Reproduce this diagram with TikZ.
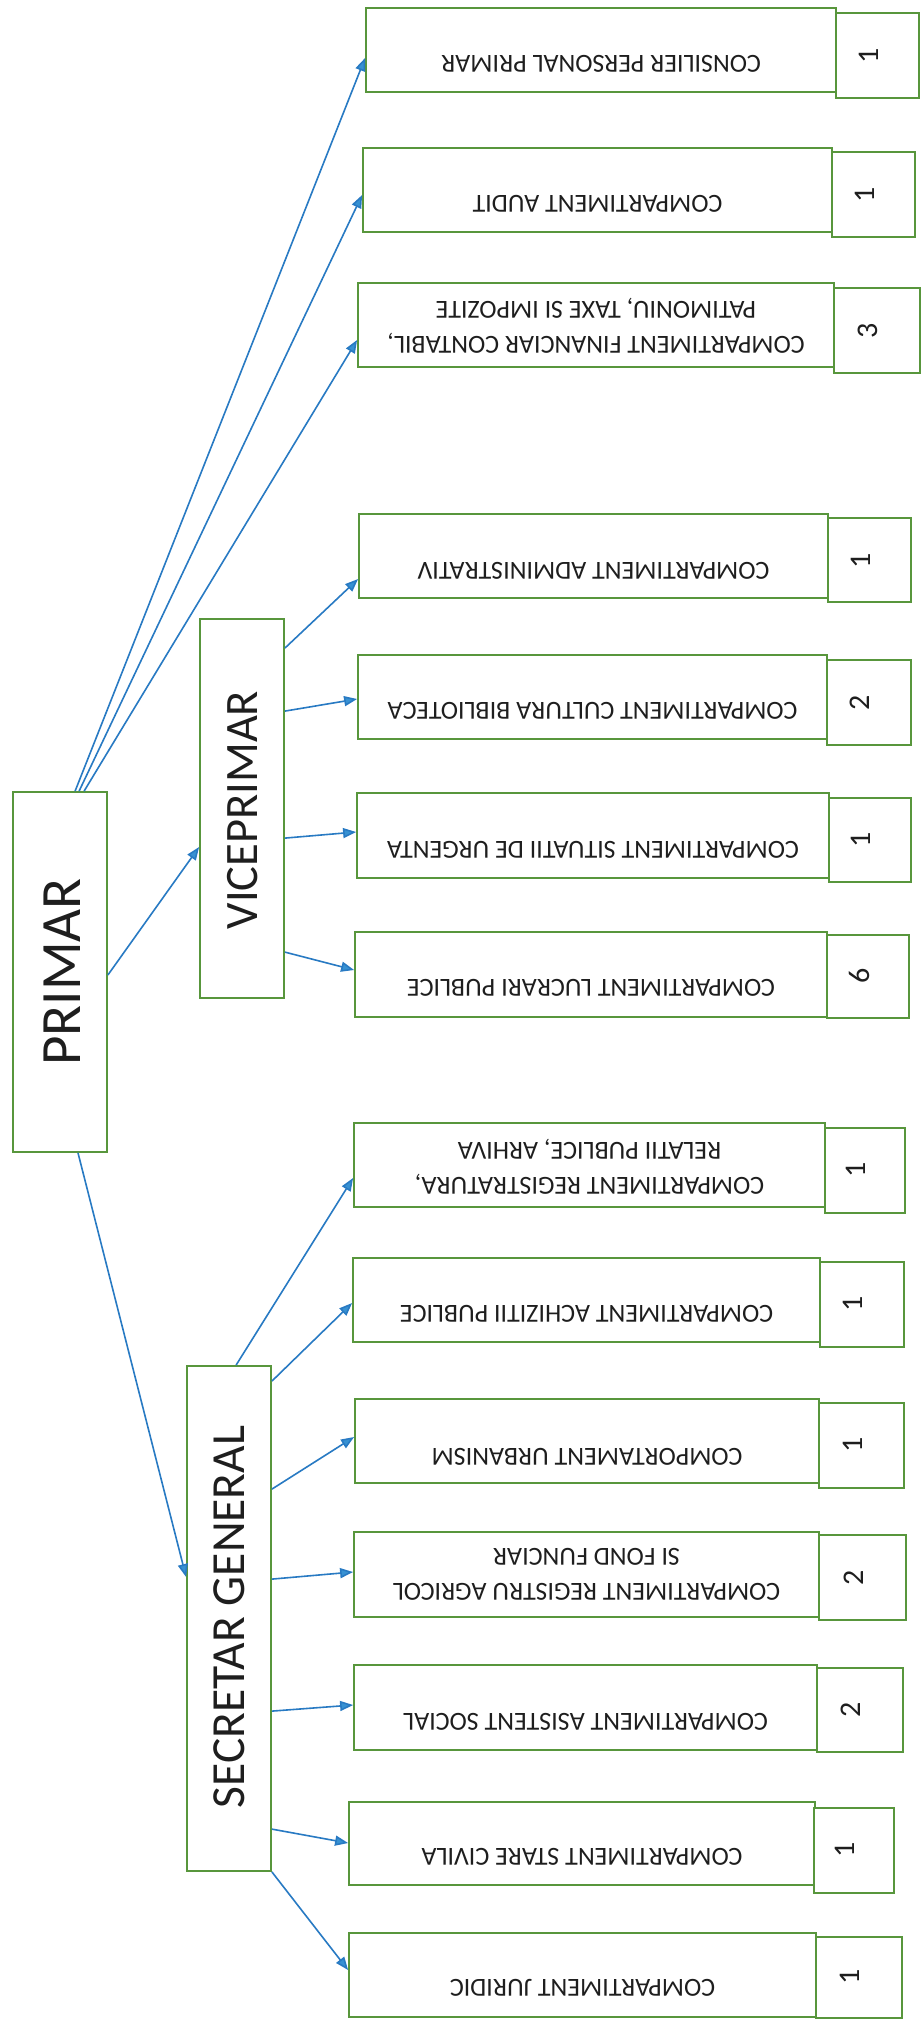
\documentclass[tikz,border=0pt]{standalone}
\usepackage{fontspec}
\setmainfont{Carlito}
\usetikzlibrary{arrows.meta,calc}
\definecolor{boxgreen}{RGB}{88,150,60}
\definecolor{arrowblue}{RGB}{40,122,195}
\definecolor{headblue}{RGB}{55,145,210}
\definecolor{inkgray}{RGB}{30,30,30}
\tikzset{
  unitbox/.style={rectangle, draw=boxgreen, line width=1.8pt, fill=white, inner sep=0pt},
  boxtext/.style={rotate=180, font=\fontsize{26}{35}\selectfont, text=inkgray, align=center, inner sep=0pt},
  numtext/.style={rotate=90, font=\fontsize{30}{30}\selectfont, text=inkgray, inner sep=0pt},
  headtext/.style={rotate=90, text=inkgray, inner sep=0pt},
  link/.style={draw=arrowblue, line width=1.6pt, -{Triangle[length=13pt,width=10pt,fill=headblue]}}
}
\begin{document}
\begin{tikzpicture}[x=1pt,y=-1pt]
\useasboundingbox[fill=white] (0,0) rectangle (922,2021);

% ---- head boxes ----
\node[unitbox, minimum width=94pt, minimum height=360pt] (primar) at (60,972) {};
\node[headtext, font=\fontsize{57}{57}\selectfont] (primarT) at (62,972) {PRIMAR};
\node[unitbox, minimum width=84pt, minimum height=379pt] (vice) at (242,808.5) {};
\node[headtext, font=\fontsize{46.5}{46.5}\selectfont] (viceT) at (243,810) {VICEPRIMAR};
\node[unitbox, minimum width=84pt, minimum height=505pt] (sec) at (229,1618.5) {};
\node[headtext, font=\fontsize{47.5}{47.5}\selectfont] (secT) at (229,1617) {SECRETAR GENERAL};

% ---- unit boxes ----
\node[unitbox, minimum width=470pt, minimum height=84pt] (b1) at (601,50) {};
\node[unitbox, minimum width=83pt, minimum height=85pt] (c1) at (877.5,55.5) {};
\node[boxtext] (t1) at (601,64) {CONSILIER PERSONAL PRIMAR};
\node[numtext] (n1) at (868.5,55.5) {1};

\node[unitbox, minimum width=469pt, minimum height=84pt] (b2) at (597.5,190) {};
\node[unitbox, minimum width=83pt, minimum height=85pt] (c2) at (873.5,194.5) {};
\node[boxtext] (t2) at (597.5,204) {COMPARTIMENT AUDIT};
\node[numtext] (n2) at (864.5,194.5) {1};

\node[unitbox, minimum width=476pt, minimum height=84pt] (b3) at (596,325) {};
\node[unitbox, minimum width=86pt, minimum height=85pt] (c3) at (877,330.5) {};
\node[boxtext] (t3) at (596,326) {COMPARTIMENT FINANCIAR CONTABIL,\\PATIMONIU, TAXE SI IMPOZITE};
\node[numtext] (n3) at (868,331) {3};

\node[unitbox, minimum width=469pt, minimum height=84pt] (b4) at (593.5,556) {};
\node[unitbox, minimum width=83pt, minimum height=84pt] (c4) at (869.5,560) {};
\node[boxtext] (t4) at (593.5,571) {COMPARTIMENT ADMINISTRATIV};
\node[numtext] (n4) at (860.5,561) {1};

\node[unitbox, minimum width=469pt, minimum height=84pt] (b5) at (592.5,697) {};
\node[unitbox, minimum width=84pt, minimum height=85pt] (c5) at (869,702.5) {};
\node[boxtext] (t5) at (592.5,711) {COMPARTIMENT CULTURA BIBLIOTECA};
\node[numtext] (n5) at (860,703) {2};

\node[unitbox, minimum width=472pt, minimum height=85pt] (b6) at (593,835.5) {};
\node[unitbox, minimum width=82pt, minimum height=84pt] (c6) at (870,840) {};
\node[boxtext] (t6) at (593,850) {COMPARTIMENT SITUATII DE URGENTA};
\node[numtext] (n6) at (861,840) {1};

\node[unitbox, minimum width=472pt, minimum height=85pt] (b7) at (591,974.5) {};
\node[unitbox, minimum width=82pt, minimum height=83pt] (c7) at (868,976.5) {};
\node[boxtext] (t7) at (591,988) {COMPARTIMENT LUCRARI PUBLICE};
\node[numtext] (n7) at (859,976) {6};

\node[unitbox, minimum width=471pt, minimum height=84pt] (b8) at (589.5,1165) {};
\node[unitbox, minimum width=80pt, minimum height=85pt] (c8) at (865,1170.5) {};
\node[boxtext] (t8) at (589.5,1167) {COMPARTIMENT REGISTRATURA,\\RELATII PUBLICE, ARHIVA};
\node[numtext] (n8) at (856,1170) {1};

\node[unitbox, minimum width=467pt, minimum height=84pt] (b9) at (586.5,1300) {};
\node[unitbox, minimum width=84pt, minimum height=85pt] (c9) at (862,1304.5) {};
\node[boxtext] (t9) at (586.5,1314) {COMPARTIMENT ACHIZITII PUBLICE};
\node[numtext] (n9) at (853,1304) {1};

\node[unitbox, minimum width=464pt, minimum height=84pt] (b10) at (587,1441) {};
\node[unitbox, minimum width=85pt, minimum height=85pt] (c10) at (861.5,1445.5) {};
\node[boxtext] (t10) at (587,1457) {COMPORTAMENT URBANISM};
\node[numtext] (n10) at (852.5,1445) {1};

\node[unitbox, minimum width=465pt, minimum height=85pt] (b11) at (586.5,1574.5) {};
\node[unitbox, minimum width=87pt, minimum height=85pt] (c11) at (862.5,1577.5) {};
\node[boxtext] (t11) at (586.5,1574) {COMPARTIMENT REGISTRU AGRICOL\\SI FOND FUNCIAR};
\node[numtext] (n11) at (853.5,1578) {2};

\node[unitbox, minimum width=463pt, minimum height=85pt] (b12) at (585.5,1707.5) {};
\node[unitbox, minimum width=86pt, minimum height=84pt] (c12) at (860,1710) {};
\node[boxtext] (t12) at (585.5,1722) {COMPARTIMENT ASISTENT SOCIAL};
\node[numtext] (n12) at (851,1710) {2};

\node[unitbox, minimum width=466pt, minimum height=83pt] (b13) at (582,1843.5) {};
\node[unitbox, minimum width=80pt, minimum height=85pt] (c13) at (854,1850.5) {};
\node[boxtext] (t13) at (582,1857) {COMPARTIMENT STARE CIVILA};
\node[numtext] (n13) at (845,1850) {1};

\node[unitbox, minimum width=467pt, minimum height=84pt] (b14) at (582.5,1975) {};
\node[unitbox, minimum width=86pt, minimum height=81pt] (c14) at (859,1977.5) {};
\node[boxtext] (t14) at (582.5,1988) {COMPARTIMENT JURIDIC};
\node[numtext] (n14) at (850,1977) {1};

% ---- connectors ----
\draw[link] ($(primar.north west)+(63,0)$) -- ($(b1.west)+(0,8)$);
\draw[link] ($(primar.north west)+(67,0)$) -- ($(b2.west)+(0,5)$);
\draw[link] ($(primar.north west)+(72,0)$) -- ($(b3.west)+(0,15)$);
\draw[link] ($(primar.east)+(0,3)$) -- ($(vice.west)+(0,38.5)$);
\draw[link] ($(primar.south)+(18,0)$) -- ($(sec.west)+(0,-41.5)$);

\draw[link] ($(vice.north east)+(0,30)$) -- ($(b4.west)+(0,23)$);
\draw[link] ($(vice.north east)+(0,93)$) -- ($(b5.west)+(0,2)$);
\draw[link] ($(vice.north east)+(0,220)$) -- ($(b6.west)+(0,-3.5)$);
\draw[link] ($(vice.north east)+(0,334)$) -- ($(b7.west)+(0,-4.5)$);

\draw[link] ($(sec.north west)+(50,0)$) -- ($(b8.west)+(0,13)$);
\draw[link] ($(sec.north east)+(0,16)$) -- ($(b9.west)+(0,3)$);
\draw[link] ($(sec.north east)+(0,124)$) -- ($(b10.west)+(0,-4)$);
\draw[link] ($(sec.north east)+(0,214)$) -- ($(b11.west)+(0,-2.5)$);
\draw[link] ($(sec.north east)+(0,346)$) -- ($(b12.west)+(0,-2.5)$);
\draw[link] ($(sec.north east)+(0,464)$) -- ($(b13.west)+(0,-0.5)$);
\draw[link] (sec.south east) -- ($(b14.west)+(0,-5)$);
\end{tikzpicture}
\end{document}
